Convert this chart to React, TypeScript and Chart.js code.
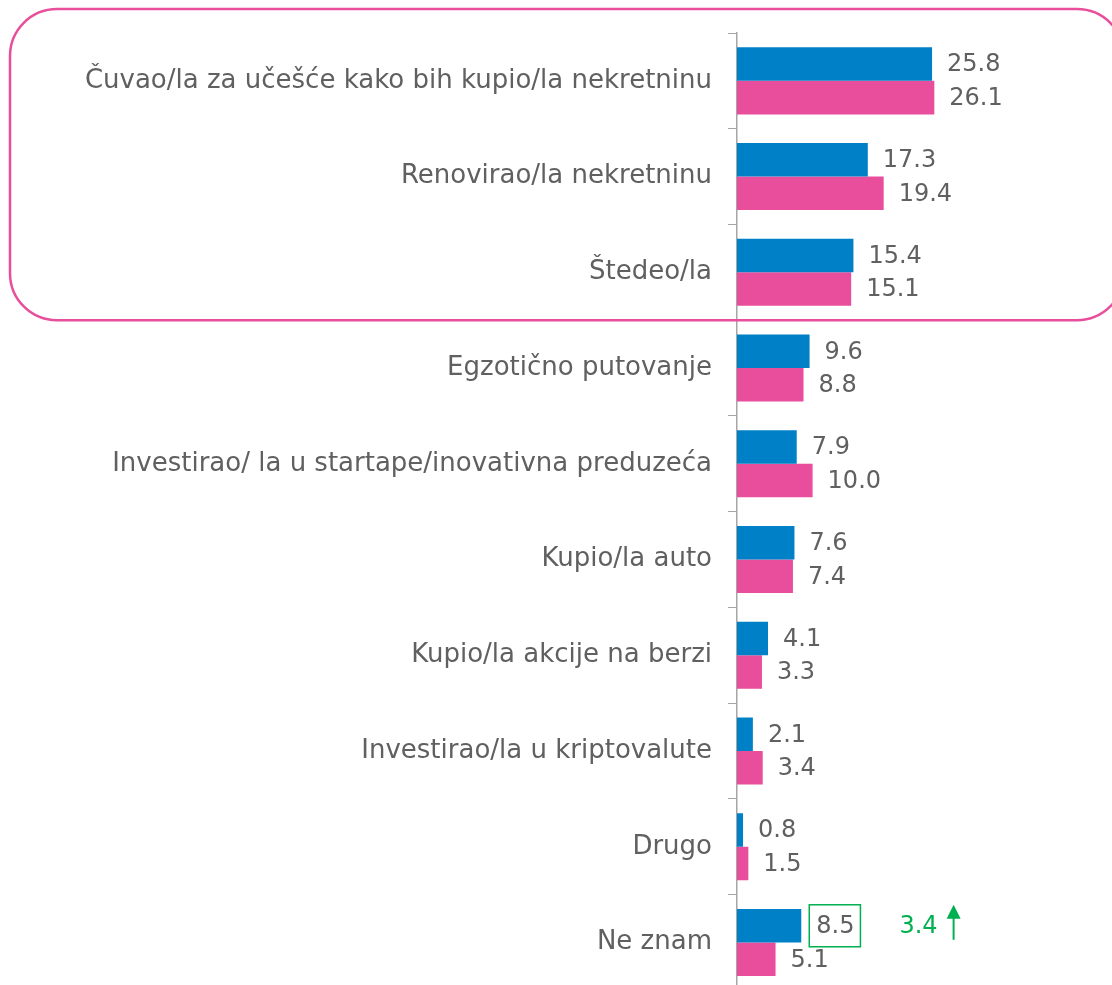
import React, { useEffect, useRef } from "react";
import { Chart, registerables } from "chart.js";

Chart.register(...registerables);

const categories = [
  "Čuvao/la za učešće kako bih kupio/la nekretninu",
  "Renovirao/la nekretninu",
  "Štedeo/la",
  "Egzotično putovanje",
  "Investirao/ la u startape/inovativna preduzeća",
  "Kupio/la auto",
  "Kupio/la akcije na berzi",
  "Investirao/la u kriptovalute",
  "Drugo",
  "Ne znam",
];
const seriesBlue = [25.8, 17.3, 15.4, 9.6, 7.9, 7.6, 4.1, 2.1, 0.8, 8.5];
const seriesPink = [26.1, 19.4, 15.1, 8.8, 10.0, 7.4, 3.3, 3.4, 1.5, 5.1];
const highlightIndex = 9;
const changeLabel = "3.4";

const BLUE = "#0080C6";
const PINK = "#E84E9B";
const GREEN = "#00B050";
const TEXT = "#606060";
const FONT = "'DejaVu Sans', sans-serif";
const FONT_SIZE = 26;
const VALUE_SIZE = 24;

const overlayPlugin = {
  id: "overlay",
  afterDatasetsDraw(chart: any) {
    const ctx = chart.ctx;
    ctx.save();
    ctx.font = `${VALUE_SIZE}px ${FONT}`;
    ctx.textBaseline = "middle";
    ctx.textAlign = "left";
    let boxInfo: any = null;
    chart.data.datasets.forEach((ds: any, di: number) => {
      const meta = chart.getDatasetMeta(di);
      meta.data.forEach((bar: any, i: number) => {
        const txt = Number(ds.data[i]).toFixed(1);
        const x = bar.x + 15;
        ctx.fillStyle = TEXT;
        ctx.fillText(txt, x, bar.y + 1);
        if (di === 0 && i === highlightIndex) {
          boxInfo = { x, y: bar.y, w: ctx.measureText(txt).width };
        }
      });
    });
    if (boxInfo) {
      ctx.strokeStyle = GREEN;
      ctx.lineWidth = 1.5;
      ctx.strokeRect(boxInfo.x - 7, boxInfo.y - 21, boxInfo.w + 13, 42);
      const tx = boxInfo.x + boxInfo.w + 45;
      ctx.fillStyle = GREEN;
      ctx.fillText(changeLabel, tx, boxInfo.y + 1);
      const ax = tx + ctx.measureText(changeLabel).width + 16;
      ctx.lineWidth = 2;
      ctx.beginPath();
      ctx.moveTo(ax, boxInfo.y + 14);
      ctx.lineTo(ax, boxInfo.y - 10);
      ctx.stroke();
      ctx.beginPath();
      ctx.moveTo(ax, boxInfo.y - 21);
      ctx.lineTo(ax - 7, boxInfo.y - 7);
      ctx.lineTo(ax + 7, boxInfo.y - 7);
      ctx.closePath();
      ctx.fill();
    }
    // rounded outline around the top three categories
    const ys = chart.scales.y;
    const band = ys.getPixelForValue(1) - ys.getPixelForValue(0);
    const top = ys.getPixelForValue(0) - band / 2 - 24;
    const bottom = ys.getPixelForValue(2) + band / 2;
    const left = 10;
    const right = 1124;
    const r = 47;
    ctx.strokeStyle = PINK;
    ctx.lineWidth = 2.5;
    ctx.beginPath();
    ctx.moveTo(left + r, top);
    ctx.arcTo(right, top, right, bottom, r);
    ctx.arcTo(right, bottom, left, bottom, r);
    ctx.arcTo(left, bottom, left, top, r);
    ctx.arcTo(left, top, right, top, r);
    ctx.closePath();
    ctx.stroke();
    ctx.restore();
  },
};

export default function App() {
  const ref = useRef<HTMLCanvasElement>(null);
  useEffect(() => {
    if (!ref.current) return;
    const chart = new Chart(ref.current, {
      type: "bar",
      data: {
        labels: categories,
        datasets: [
          { data: seriesBlue, backgroundColor: BLUE, categoryPercentage: 0.7, barPercentage: 1 },
          { data: seriesPink, backgroundColor: PINK, categoryPercentage: 0.7, barPercentage: 1 },
        ],
      },
      options: {
        indexAxis: "y",
        responsive: false,
        animation: false,
        layout: { padding: { top: 33, bottom: 9, left: 0, right: 0 } },
        plugins: { legend: { display: false }, tooltip: { enabled: false } },
        scales: {
          x: { display: false, min: 0, max: 49.6 },
          y: {
            afterFit(scale: any) {
              scale.width = 737;
            },
            grid: {
              drawOnChartArea: false,
              drawTicks: true,
              tickLength: 9,
              color: "#A6A6A6",
              offset: true,
            },
            border: { color: "#A6A6A6", width: 1.5 },
            ticks: {
              color: TEXT,
              padding: 16,
              font: { family: FONT, size: FONT_SIZE },
            },
          },
        },
      },
      plugins: [overlayPlugin],
    } as any);
    return () => chart.destroy();
  }, []);
  return (
    <div style={{ position: "fixed", left: 0, top: 0, width: 1112, height: 985, overflow: "hidden", background: "#fff" }}>
      <canvas ref={ref} width={1112} height={1022} style={{ display: "block" }} />
    </div>
  );
}
